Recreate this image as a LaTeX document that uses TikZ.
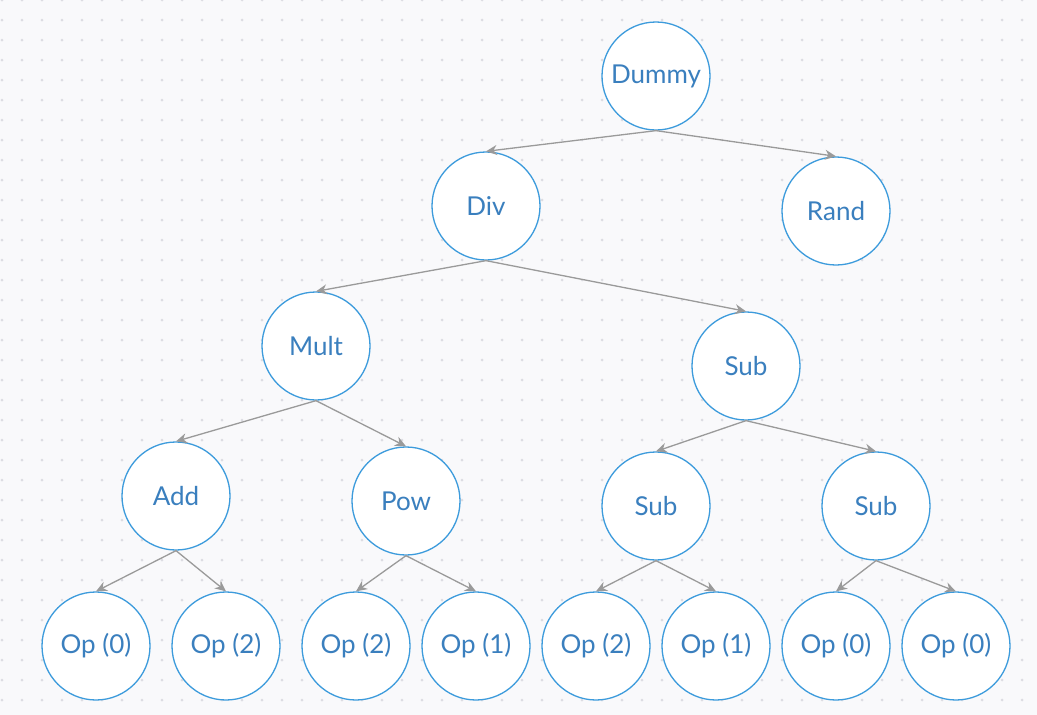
\documentclass[tikz,border=0pt]{standalone}
\usepackage{fontspec}
\setmainfont{Lato}
\usetikzlibrary{arrows.meta}
\definecolor{bgc}{HTML}{F9F9FB}
\definecolor{dotc}{HTML}{DCDCE2}
\definecolor{ringc}{HTML}{3C9BDC}
\definecolor{txtc}{HTML}{3A7FBE}
\definecolor{edgec}{HTML}{9A9A9A}
\tikzset{
  tnode/.style={circle, draw=ringc, fill=white, line width=1.3pt, minimum size=108pt, inner sep=0pt, text=txtc, font=\fontsize{26}{30}\selectfont},
  tedge/.style={draw=edgec, line width=1.3pt, -{Stealth[length=11pt,width=10pt]}}
}
\begin{document}
\begin{tikzpicture}[x=1pt,y=-1pt]
\fill[bgc] (0,0) rectangle (1037,715);
\useasboundingbox (0,0) rectangle (1037,715);
\foreach \i in {0,...,51}{
  \foreach \j in {0,...,35}{
    \fill[dotc] (2+20*\i,20*\j) circle (1.5pt);
  }
}
\node[tnode] (dummy) at (656,76) {Dummy};
\node[tnode] (div) at (486,206) {Div};
\node[tnode] (rand) at (836,211) {Rand};
\node[tnode] (mult) at (316,346) {Mult};
\node[tnode] (sub) at (746,366) {Sub};
\node[tnode] (add) at (176,496) {Add};
\node[tnode] (pow) at (406,501) {Pow};
\node[tnode] (subl) at (656,506) {Sub};
\node[tnode] (subr) at (876,506) {Sub};
\node[tnode] (o1) at (96,646) {Op (0)};
\node[tnode] (o2) at (226,646) {Op (2)};
\node[tnode] (o3) at (356,646) {Op (2)};
\node[tnode] (o4) at (476,646) {Op (1)};
\node[tnode] (o5) at (596,646) {Op (2)};
\node[tnode] (o6) at (716,646) {Op (1)};
\node[tnode] (o7) at (836,646) {Op (0)};
\node[tnode] (o8) at (956,646) {Op (0)};
\foreach \p/\c in {dummy/div,dummy/rand,div/mult,div/sub,mult/add,mult/pow,sub/subl,sub/subr,add/o1,add/o2,pow/o3,pow/o4,subl/o5,subl/o6,subr/o7,subr/o8}{
  \draw[tedge] (\p.south) -- (\c.north);
}
\end{tikzpicture}
\end{document}
